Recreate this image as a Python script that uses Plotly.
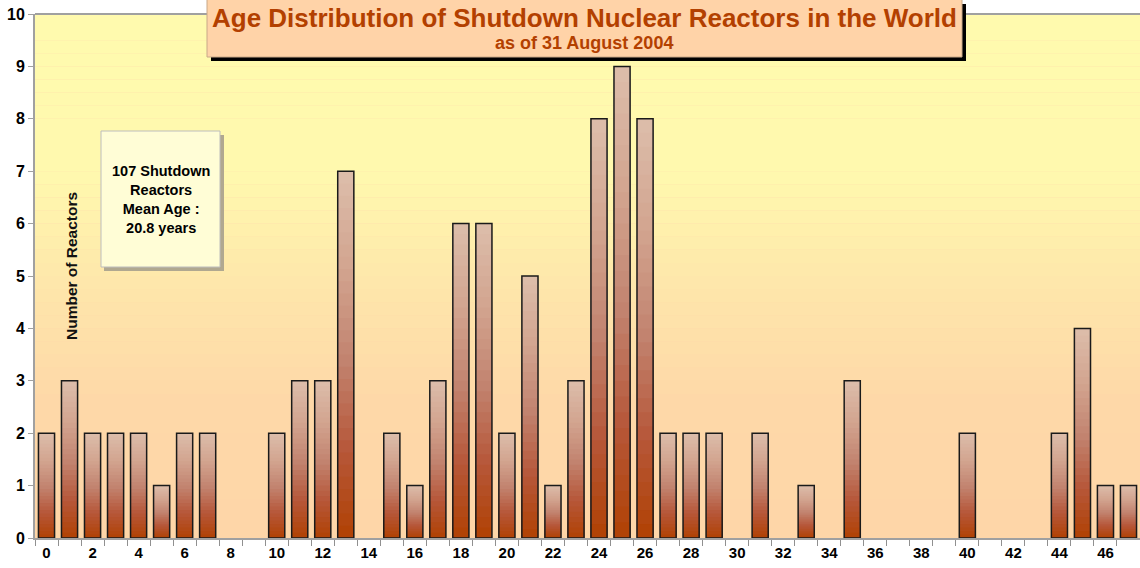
import plotly.graph_objects as go

# age of reactor at shutdown (years) -> number of reactors
ages = list(range(0, 48))
counts = [2, 3, 2, 2, 2, 1, 2, 2, 0, 0,
          2, 3, 3, 7, 0, 2, 1, 3, 6, 6,
          2, 5, 1, 3, 8, 9, 8, 2, 2, 2,
          0, 2, 0, 1, 0, 3, 0, 0, 0, 0,
          2, 0, 0, 0, 2, 4, 1, 1]
x_ticks = list(range(0, 48, 2))
y_ticks = list(range(0, 11))

title_main = "Age Distribution of Shutdown Nuclear Reactors in the World"
title_sub = "as of 31 August 2004"
note = "107 Shutdown<br>Reactors<br>Mean Age :<br>20.8 years"

RUST = "#B34000"


def hex2rgb(h):
    h = h.lstrip("#")
    return [int(h[i:i + 2], 16) for i in (0, 2, 4)]


def mix(stops, t):
    # stops: list of (pos, hex)
    for (p0, c0), (p1, c1) in zip(stops, stops[1:]):
        if p0 <= t <= p1:
            f = 0 if p1 == p0 else (t - p0) / (p1 - p0)
            a, b = hex2rgb(c0), hex2rgb(c1)
            return "rgb(%d,%d,%d)" % tuple(round(a[k] + (b[k] - a[k]) * f) for k in range(3))
    return stops[-1][1]


bar_stops = [(0, "#DCBCA9"), (0.25, "#D2A48F"), (0.5, "#C2836F"),
             (0.75, "#B65638"), (1.0, "#B04000")]
bg_stops = [(0, "#FED6A8"), (0.25, "#FED8A8"), (0.45, "#FEE4AA"),
            (0.7, "#FFF9AE"), (1.0, "#FFFAAE")]

fig = go.Figure()

# gradient bars built from overlaid layers, each a fraction of the bar height
N = 30
for i in range(N):
    frac = (N - i) / N
    fig.add_trace(go.Bar(
        x=ages, y=[c * frac for c in counts], width=0.7,
        marker=dict(color=mix(bar_stops, i / N), line=dict(width=0)),
        hoverinfo="skip", showlegend=False))

# outline (no outline on empty ages)
fig.add_trace(go.Bar(
    x=ages, y=counts, width=0.7,
    marker=dict(color="rgba(0,0,0,0)",
                line=dict(color="#1a1a1a", width=[1.5 if c else 0 for c in counts])),
    showlegend=False))

# background bands
shapes = []
nb = 40
for j in range(nb):
    shapes.append(dict(type="rect", xref="paper", yref="y", layer="below",
                       x0=0, x1=1, y0=10 * j / nb, y1=10 * (j + 1) / nb,
                       fillcolor=mix(bg_stops, j / (nb - 1)), line=dict(width=0)))


def px_x(p):
    return (p - 35) / 1105


def px_y(p):
    return (538 - p) / 524


# title box with shadow
shapes.append(dict(type="rect", xref="paper", yref="paper", layer="above",
                   x0=px_x(211), x1=px_x(966), y0=px_y(61), y1=px_y(4),
                   fillcolor="black", line=dict(width=0)))
shapes.append(dict(type="rect", xref="paper", yref="paper", layer="above",
                   x0=px_x(207), x1=px_x(962), y0=px_y(57), y1=px_y(-2),
                   fillcolor="#FFD3A8", line=dict(color="#C8A888", width=1)))
# note box with shadow
shapes.append(dict(type="rect", xref="paper", yref="paper", layer="above",
                   x0=px_x(104), x1=px_x(224), y0=px_y(271), y1=px_y(135),
                   fillcolor="#B0A890", line=dict(width=0)))
shapes.append(dict(type="rect", xref="paper", yref="paper", layer="above",
                   x0=px_x(101), x1=px_x(220), y0=px_y(267), y1=px_y(131),
                   fillcolor="#FFFDD6", line=dict(color="#BDBDBD", width=1)))

annotations = [
    dict(text="<b>%s</b>" % title_main, xref="paper", yref="paper",
         x=px_x(584), y=px_y(18), showarrow=False, xanchor="center", yanchor="middle",
         font=dict(family="Liberation Sans Narrow, Arial Narrow, Arial", size=26, color=RUST)),
    dict(text="<b>%s</b>" % title_sub, xref="paper", yref="paper",
         x=px_x(584), y=px_y(43), showarrow=False, xanchor="center", yanchor="middle",
         font=dict(family="Liberation Sans Narrow, Arial Narrow, Arial", size=18, color=RUST)),
    dict(text="<b>%s</b>" % note, xref="paper", yref="paper",
         x=px_x(161), y=px_y(199), showarrow=False, xanchor="center", yanchor="middle",
         font=dict(family="Liberation Sans, Arial", size=14.5, color="black")),
    dict(text="<b>Number of Reactors</b>", xref="paper", yref="paper",
         x=px_x(71), y=px_y(266), showarrow=False, textangle=-90,
         xanchor="center", yanchor="middle",
         font=dict(family="Liberation Sans, Arial", size=15.5, color="#111111")),
]

fig.update_layout(
    width=1140, height=568,
    margin=dict(l=35, r=0, t=14, b=30),
    barmode="overlay",
    paper_bgcolor="white",
    plot_bgcolor="#FED6A8",
    shapes=shapes,
    annotations=annotations,
    font=dict(family="Liberation Sans, Arial", color="black"),
    xaxis=dict(range=[-0.5, 47.5], tickvals=x_ticks, ticks="", ticklen=0,
               showgrid=False, zeroline=False,
               showline=True, linecolor="#A0A0A0", linewidth=2,
               tickfont=dict(size=15, family="Liberation Sans, Arial", weight="bold"),
               minor=dict(tick0=-0.5, dtick=1, ticks="outside", ticklen=6,
                          tickcolor="#909090", showgrid=False)),
    yaxis=dict(range=[0, 10], tickvals=y_ticks, ticks="outside", ticklen=5,
               tickcolor="#A0A0A0", showgrid=False, zeroline=False,
               showline=True, linecolor="#A0A0A0", linewidth=2, mirror=False,
               tickfont=dict(size=16, family="Liberation Sans, Arial", weight="bold")),
)

# top frame line
fig.add_shape(type="line", xref="paper", yref="paper", x0=0, x1=1, y0=1, y1=1,
              line=dict(color="#A0A0A0", width=2), layer="below")

fig.write_html("out.html", config={"displayModeBar": False},
               post_script="document.body.style.margin='0px';")
